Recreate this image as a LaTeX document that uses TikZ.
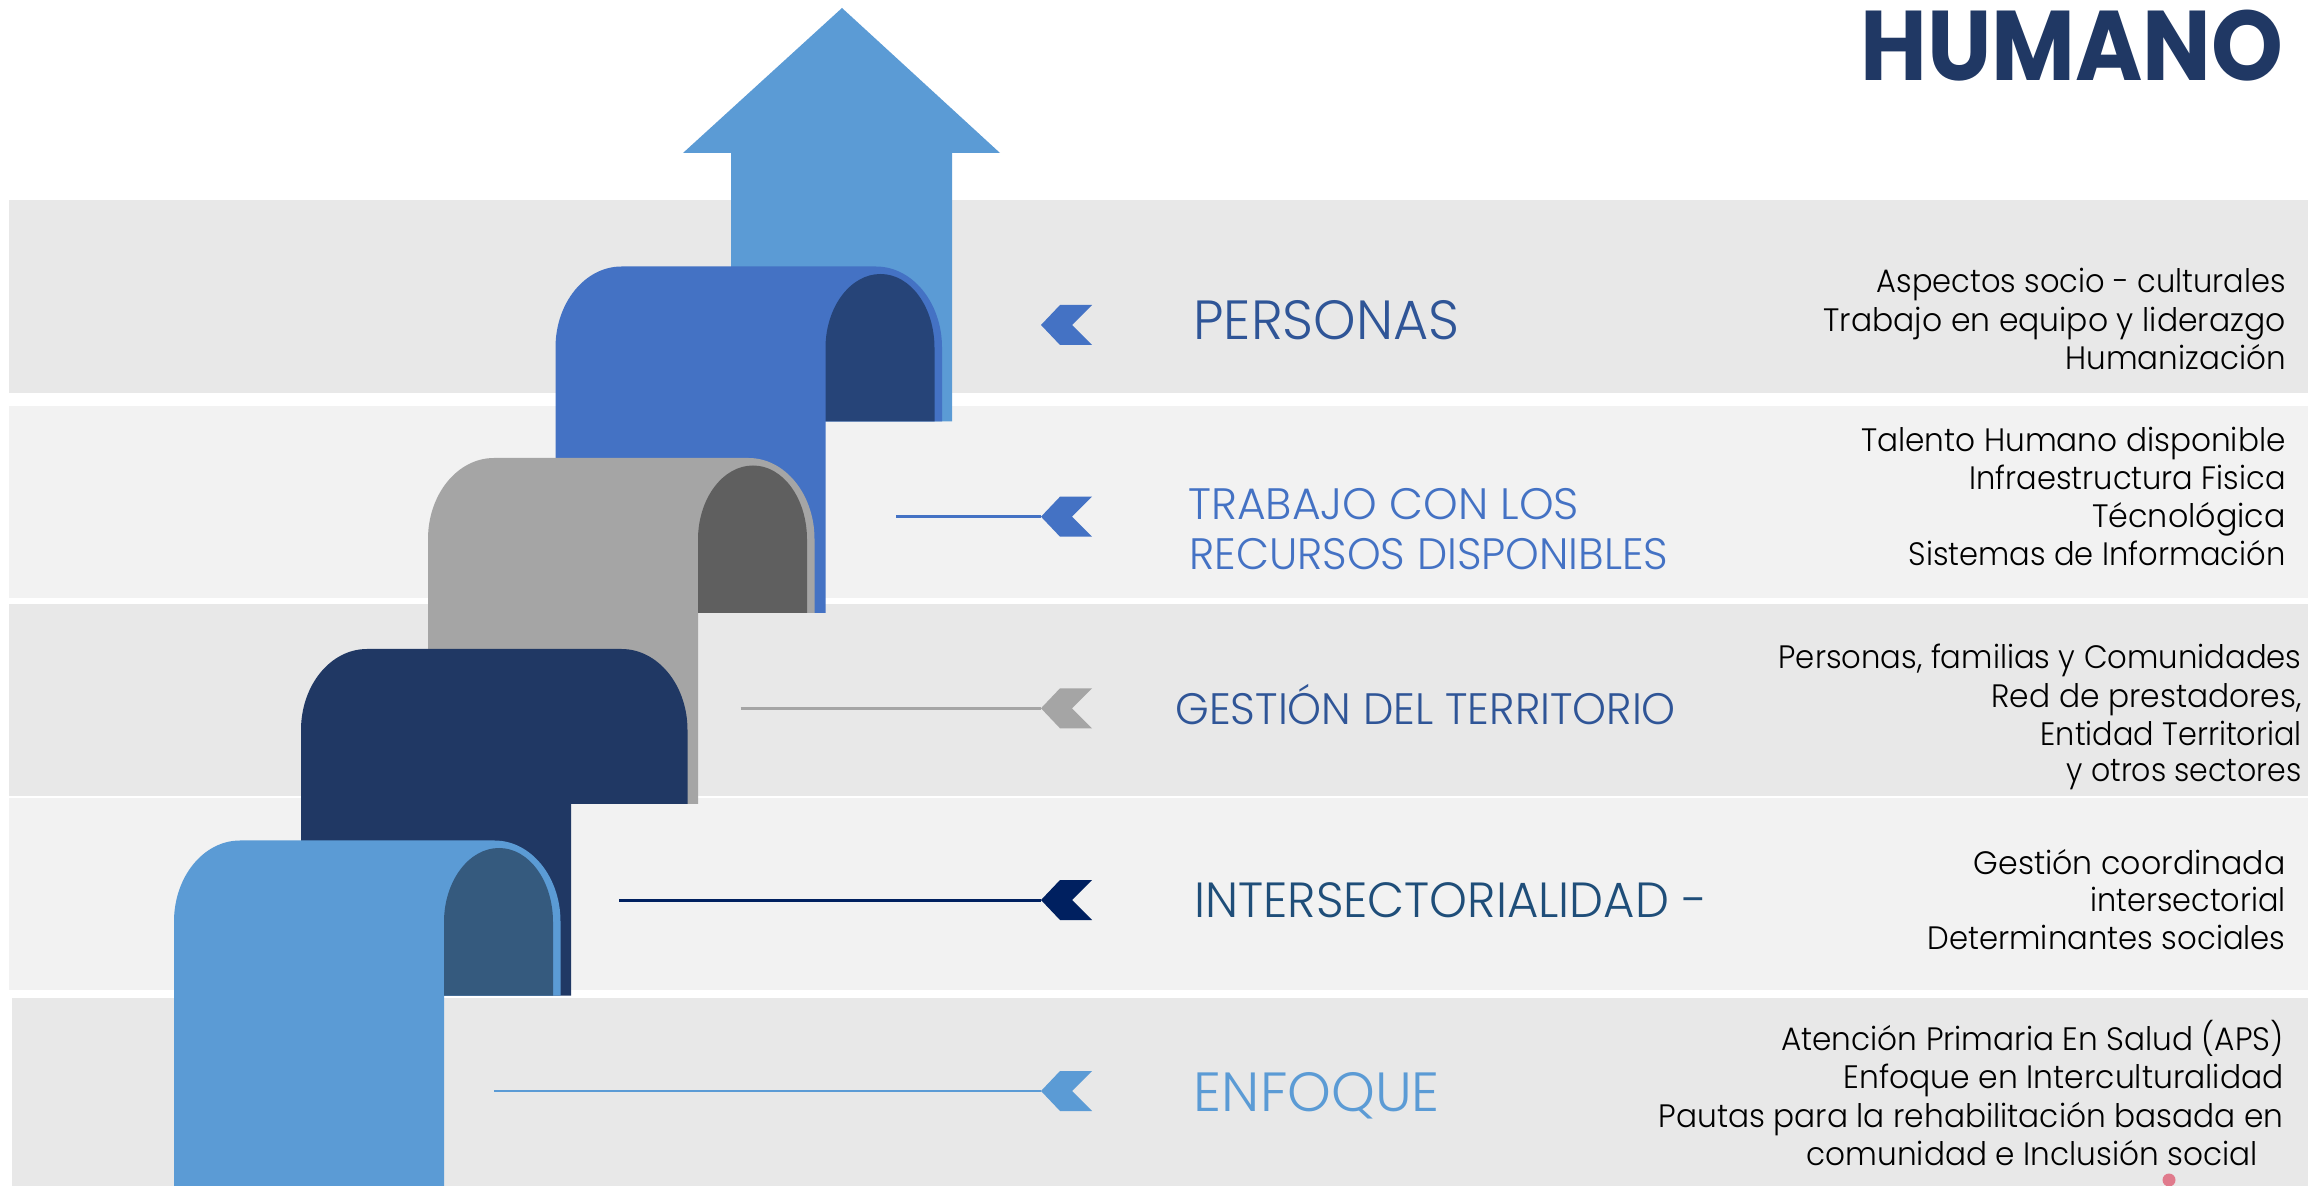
\documentclass[tikz,border=0pt]{standalone}
\usepackage{fontspec}
\usepackage{graphicx}
\IfFontExistsTF{Poppins Light}{\newfontfamily\lightf{Poppins Light}}{\newfontfamily\lightf{Poppins}}
\newfontfamily\popf{Poppins}
\newcommand{\fitw}[2]{\resizebox{#1}{\height}{#2}}
\definecolor{banddark}{HTML}{E8E8E8}
\definecolor{bandlight}{HTML}{F2F2F2}
\definecolor{arrowblue}{HTML}{5B9BD5}
\definecolor{medblue}{HTML}{4472C4}
\definecolor{medbluein}{HTML}{264478}
\definecolor{grayout}{HTML}{A5A5A5}
\definecolor{grayin}{HTML}{5F5F5F}
\definecolor{navy}{HTML}{203864}
\definecolor{ltblue}{HTML}{5B9BD5}
\definecolor{ltbluein}{HTML}{355A7E}
\definecolor{chevnavy}{HTML}{002060}
\definecolor{labblue}{HTML}{2F5597}
\definecolor{labteal}{HTML}{1F4E79}
\definecolor{pinkdot}{HTML}{E07A8C}
\newcommand{\stepshape}[5]{%
  \fill[#4] (#1,#3) -- (#1,{#2+81}) .. controls (#1,{#2+36.3}) and ({#1+29.5},#2) .. ({#1+66},#2)
    -- ({#1+320.5},#2) .. controls ({#1+357},#2) and ({#1+386.5},{#2+36.3}) .. ({#1+386.5},{#2+81})
    -- ({#1+386.5},{#2+155}) -- ({#1+270},{#2+155}) -- ({#1+270},#3) -- cycle;
  \fill[#5] ({#1+270},{#2+155}) -- ({#1+270},{#2+81.5}) .. controls ({#1+270},{#2+40.6}) and ({#1+294.9},{#2+7.5}) .. ({#1+325},{#2+7.5})
    .. controls ({#1+355.1},{#2+7.5}) and ({#1+379},{#2+40.6}) .. ({#1+379},{#2+81.5}) -- ({#1+379},{#2+155}) -- cycle;
}
\begin{document}
\begin{tikzpicture}[x=0.5pt,y=-0.5pt,
  pics/chev/.style={code={\fill[#1] (0,0) -- (19,-20) -- (51,-20) -- (31,0) -- (51,20) -- (19,20) -- cycle;}},
  conn/.style={line width=1.25pt},
  lab/.style={anchor=base west, inner sep=0pt},
  bigl/.style={lab, font=\lightf\fontsize{27.6}{30}\selectfont},
  midl/.style={lab, font=\lightf\fontsize{24.7}{28}\selectfont},
  smll/.style={lab, font=\lightf\fontsize{22}{25}\selectfont},
  body/.style={anchor=base east, inner sep=0pt, text=black, font=\lightf\fontsize{16.2}{19}\selectfont}
]
\useasboundingbox (0,0) rectangle (2308,1186);
\fill[white] (0,0) rectangle (2308,1186);
% bands
\fill[banddark]  (9,200.5) rectangle (2308,392.6);
\fill[bandlight] (9,406.5) rectangle (2308,598.5);
\fill[banddark]  (9,604) rectangle (2308,795.7);
\fill[bandlight] (9,798.4) rectangle (2308,989.7);
\fill[banddark]  (12,998) rectangle (2308,1186);
% big arrow
\fill[arrowblue] (842,8) -- (1000,153) -- (952,153) -- (952,421.5) -- (731,421.5) -- (731,153) -- (683,153) -- cycle;
% steps
\stepshape{555.5}{266.5}{613}{medblue}{medbluein}
\stepshape{428}{458}{804}{grayout}{grayin}
\stepshape{301}{649}{995.5}{navy}{navy}
\stepshape{174}{840.5}{1186}{ltblue}{ltbluein}
% chevrons and connectors
\coordinate (c1) at (1041,325);
\coordinate (c2) at (1041,516.7);
\coordinate (c3) at (1041,708.3);
\coordinate (c4) at (1041,900);
\coordinate (c5) at (1041,1091);
\coordinate (s2) at (896,516.7);
\coordinate (s3) at (740.5,708.3);
\coordinate (s4) at (619,900);
\coordinate (s5) at (494,1091);
\draw[conn, medblue] (s2) -- (c2);
\draw[conn, grayout] (s3) -- (c3);
\draw[conn, chevnavy, line width=1.5pt] (s4) -- (c4);
\draw[conn, ltblue] (s5) -- (c5);
\pic at (c1) {chev=medblue};
\pic at (c2) {chev=medblue};
\pic at (c3) {chev=grayout};
\pic at (c4) {chev=chevnavy};
\pic at (c5) {chev=ltblue};
% title
\node[lab, text=navy, font=\popf\bfseries\fontsize{49.5}{52}\selectfont] (title) at (1860,80.7) {\fitw{211.5pt}{HUMANO}};
% labels
\node[bigl, text=labblue] (lPer) at (1193,340) {\fitw{133pt}{PERSONAS}};
\node[smll, text=medblue] (lTra1) at (1188,519.3) {\fitw{195.3pt}{TRABAJO CON LOS}};
\node[smll, text=medblue] (lTra2) at (1189,569.3) {\fitw{239.5pt}{RECURSOS DISPONIBLES}};
\node[smll, text=labblue] (lGes) at (1175,724.7) {\fitw{250.25pt}{GESTIÓN DEL TERRITORIO}};
\node[midl, text=labteal] (lInt) at (1194,917.7) {\fitw{256.5pt}{INTERSECTORIALIDAD -}};
\node[bigl, text=ltblue] (lEnf) at (1193.5,1111.7) {\fitw{123pt}{ENFOQUE}};
% right column
\node[body] (p1) at (2286,293) {\fitw{204.5pt}{Aspectos socio - culturales}};
\node[body] (p2) at (2286,331.5) {\fitw{231pt}{Trabajo en equipo y liderazgo}};
\node[body] (p3) at (2286,370) {\fitw{110pt}{Humanización}};
\node[body] (t1) at (2286,451.7) {\fitw{212.25pt}{Talento Humano disponible}};
\node[body] (t2) at (2286,489.3) {\fitw{158pt}{Infraestructura Fisica}};
\node[body] (t3) at (2286,527.3) {\fitw{96.7pt}{Técnológica}};
\node[body] (t4) at (2286,566) {\fitw{188.5pt}{Sistemas de Información}};
\node[body] (g1) at (2302,669) {\fitw{261.5pt}{Personas, familias y Comunidades}};
\node[body] (g2) at (2302,707.3) {\fitw{155pt}{Red de prestadores,}};
\node[body] (g3) at (2302,745.5) {\fitw{130.5pt}{Entidad Territorial}};
\node[body] (g4) at (2302,782) {\fitw{117.5pt}{y otros sectores}};
\node[body] (i1) at (2286,874.5) {\fitw{156pt}{Gestión coordinada}};
\node[body] (i2) at (2286,911.7) {\fitw{97.5pt}{intersectorial}};
\node[body] (i3) at (2286,950) {\fitw{179pt}{Determinantes sociales}};
\node[body] (e1) at (2284,1050) {\fitw{251.25pt}{Atención Primaria En Salud (APS)}};
\node[body] (e2) at (2284,1088) {\fitw{220pt}{Enfoque en Interculturalidad}};
\node[body] (e3) at (2284,1127) {\fitw{312.5pt}{Pautas para la rehabilitación basada en}};
\node[body] (e4) at (2258,1165) {\fitw{225.5pt}{comunidad e Inclusión social}};
% pink dot
\fill[pinkdot] (2169,1180) circle[radius=6.5];
\end{tikzpicture}
\end{document}
